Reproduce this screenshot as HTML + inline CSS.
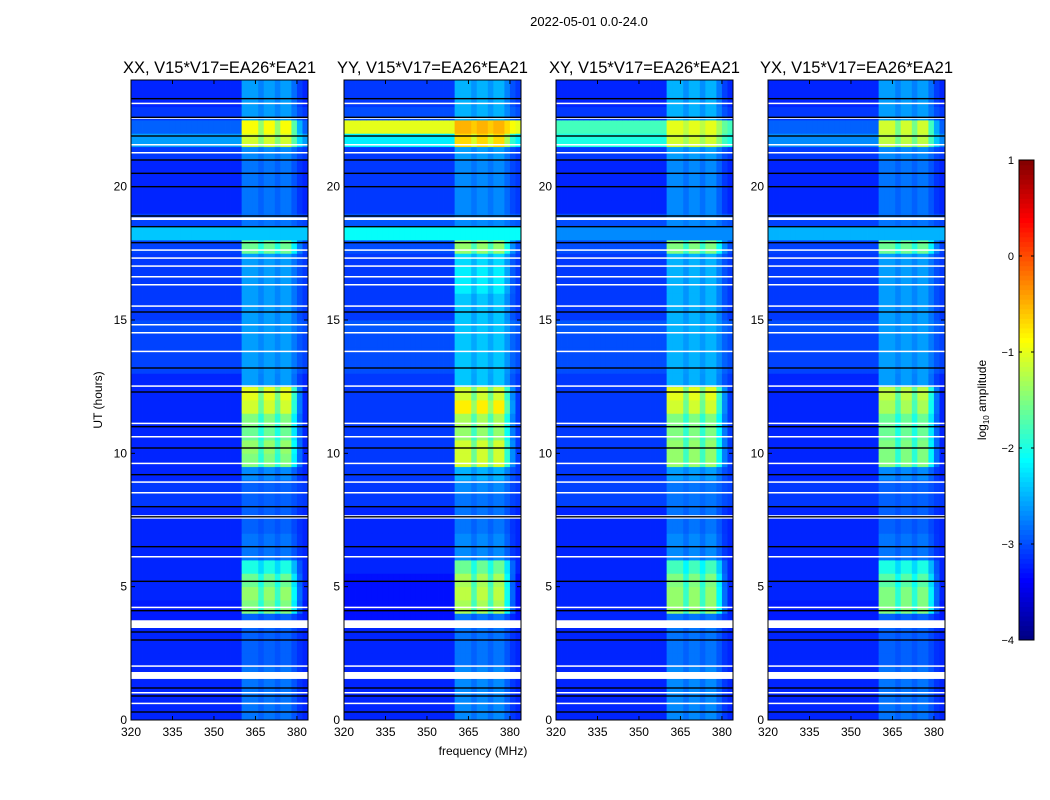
<!DOCTYPE html>
<html><head><meta charset="utf-8">
<style>
html,body{margin:0;padding:0;background:#fff;}
svg{display:block;font-family:"Liberation Sans",sans-serif;}
</style></head>
<body>
<svg id="chart" width="1050" height="800" viewBox="0 0 1050 800" xmlns="http://www.w3.org/2000/svg">
<text x="589" y="26" font-size="13" text-anchor="middle">2022-05-01 0.0-24.0</text>
<text x="483" y="755" font-size="12" text-anchor="middle">frequency (MHz)</text>
<text x="102" y="400" font-size="12" text-anchor="middle" transform="rotate(-90 102 400)">UT (hours)</text>
<g id="panels"></g>
<g id="cbar"></g>
<text x="986" y="400" font-size="12" text-anchor="middle" transform="rotate(-90 986 400)">log<tspan font-size="8" dy="3">10</tspan><tspan dy="-3"> amplitude</tspan></text>
</svg>
<script>
// ---- data ----
const polarizations = ["XX","YY","XY","YX"];
const baselineLabel = "V15*V17=EA26*EA21";
const freqEdges = [320,322,324,326,328,330,332,334,336,338,340,342,344,346,348,350,352,354,356,358,360,362,364,366,368,370,372,374,376,378,380,382,384];
const bandProfile = [0,0,0,0,0,0,0,0,0,0,0,0,0,0,0,0,0,0,0,0,1,1,1,0.75,1,1,0.75,1,1,0.6,0.2,0];
const xTicks = [320,335,350,365,380];
const yTicks = [0,5,10,15,20];
const cbarTicks = [1,0,-1,-2,-3,-4];
// half-hour rows, index 0 = 0.0-0.5 h
const rfiXX = [-2.8,-2.8,-2.8,-2.8,-2.9,-2.9,-2.9,-2.9,-1.5,-1.4,-1.6,-2.0,-2.8,-2.8,-2.9,-2.9,-2.9,-2.9,-2.7,-1.5,-1.4,-1.6,-1.5,-1.1,-1.0,-2.6,-2.6,-2.6,-2.6,-2.6,-2.6,-2.6,-2.6,-2.6,-2.6,-1.6,-2.8,-2.8,-2.8,-2.8,-2.8,-2.8,-2.7,-1.1,-0.9,-2.6,-2.6,-2.6];
const rfiYY = [-2.7,-2.7,-2.7,-2.7,-2.8,-2.8,-2.8,-2.8,-1.3,-1.2,-1.3,-1.6,-2.7,-2.7,-2.8,-2.8,-2.8,-2.7,-2.5,-1.1,-1.1,-1.4,-1.3,-0.8,-1.1,-2.4,-2.4,-2.4,-2.4,-2.4,-2.4,-2.4,-2.2,-2.2,-2.3,-1.4,-2.7,-2.7,-2.7,-2.7,-2.7,-2.7,-2.6,-0.7,-0.5,-2.5,-2.5,-2.5];
const rfiXY = [-2.7,-2.7,-2.7,-2.7,-2.8,-2.8,-2.8,-2.8,-1.4,-1.4,-1.5,-1.8,-2.7,-2.7,-2.8,-2.8,-2.8,-2.8,-2.6,-1.4,-1.4,-1.5,-1.5,-1.1,-1.0,-2.5,-2.5,-2.5,-2.5,-2.5,-2.5,-2.5,-2.5,-2.5,-2.5,-1.5,-2.7,-2.7,-2.7,-2.7,-2.7,-2.7,-2.6,-1.1,-1.0,-2.5,-2.5,-2.5];
const rfiYX = [-2.8,-2.8,-2.8,-2.8,-2.9,-2.9,-2.9,-2.9,-1.5,-1.5,-1.7,-2.0,-2.8,-2.8,-2.9,-2.9,-2.9,-2.9,-2.7,-1.5,-1.5,-1.6,-1.6,-1.3,-1.2,-2.6,-2.6,-2.6,-2.6,-2.6,-2.6,-2.6,-2.6,-2.6,-2.6,-1.6,-2.8,-2.8,-2.8,-2.8,-2.8,-2.8,-2.7,-1.2,-1.1,-2.6,-2.6,-2.6];
const baseXX = [-3.2,-3.2,-3.2,-3.2,-3.2,-3.2,-3.2,-3.25,-3.25,-3.2,-3.2,-3.2,-3.2,-3.2,-3.2,-3.2,-3.1,-3.1,-3.2,-3.2,-3.2,-3.2,-3.2,-3.2,-3.2,-3.2,-3.05,-3.05,-3.05,-3.0,-3.1,-3.1,-3.1,-3.1,-3.1,-3.05,-2.4,-3.05,-3.2,-3.2,-3.2,-3.2,-3.1,-2.6,-2.9,-3.1,-3.2,-3.2];
const baseYY = [-3.2,-3.2,-3.2,-3.2,-3.2,-3.2,-3.2,-3.3,-3.3,-3.3,-3.3,-3.2,-3.2,-3.2,-3.2,-3.2,-3.1,-3.1,-3.1,-3.1,-3.1,-3.1,-3.1,-3.1,-3.1,-3.1,-3.0,-3.0,-3.0,-2.95,-3.1,-3.1,-3.1,-3.1,-3.1,-3.0,-2.1,-2.95,-3.1,-3.1,-3.1,-3.1,-3.1,-2.2,-1.0,-3.0,-3.1,-3.1];
const baseXY = [-3.2,-3.2,-3.2,-3.2,-3.2,-3.2,-3.2,-3.2,-3.2,-3.2,-3.2,-3.2,-3.2,-3.2,-3.2,-3.2,-3.05,-3.05,-3.1,-3.1,-3.1,-3.1,-3.1,-3.1,-3.1,-3.1,-3.0,-3.0,-3.0,-2.95,-3.1,-3.1,-3.1,-3.1,-3.1,-3.0,-2.7,-3.0,-3.2,-3.2,-3.2,-3.2,-3.1,-2.0,-1.8,-3.1,-3.2,-3.2];
const baseYX = [-3.2,-3.2,-3.2,-3.2,-3.2,-3.2,-3.2,-3.25,-3.25,-3.2,-3.2,-3.2,-3.2,-3.2,-3.2,-3.2,-3.1,-3.1,-3.2,-3.2,-3.2,-3.2,-3.2,-3.2,-3.2,-3.2,-3.05,-3.05,-3.05,-3.0,-3.1,-3.1,-3.1,-3.1,-3.1,-3.05,-2.5,-3.05,-3.2,-3.2,-3.2,-3.2,-3.1,-2.7,-2.9,-3.1,-3.2,-3.2];
const rfiSeries = [rfiXX, rfiYY, rfiXY, rfiYX];
const baseSeries = [baseXX, baseYY, baseXY, baseYX];
const whiteGaps = [[3.45,3.74],[1.54,1.8],[7.55,7.68],[0.6,0.65],[1.0,1.05],[2.0,2.05],[4.2,4.25],[6.1,6.15],[8.5,8.55],[8.9,8.95],[9.6,9.65],[10.6,10.65],[11.1,11.15],[12.5,12.55],[13.8,13.85],[14.5,14.55],[14.8,14.85],[15.5,15.55],[16.3,16.35],[16.6,16.65],[17.0,17.05],[17.3,17.35],[17.6,17.65],[18.75,18.85],[21.25,21.3],[21.55,21.6],[22.55,22.6],[23.1,23.15]];
const blackLines = [0.3,0.9,1.2,3.0,3.3,4.1,5.2,6.5,7.62,8.0,9.2,10.2,11.0,12.3,13.2,15.3,17.9,18.5,18.9,20.0,20.5,21.0,21.9,22.6,23.3];

// ---- axes ----
const panelX = [131,344,556,768], panelW = 177, yTop = 80, yBottom = 720;
const fMin = 320, fMax = 384, hMax = 24;
const xs = (p,f) => panelX[p] + (f - fMin) / (fMax - fMin) * panelW;
const ys = h => yBottom - h / hMax * (yBottom - yTop);
const clamp = v => Math.max(0, Math.min(1, v));
function jet(v){ const t = clamp((v + 4) / 5);
  const r = clamp(1.5 - Math.abs(4*t-3)), g = clamp(1.5 - Math.abs(4*t-2)), b = clamp(1.5 - Math.abs(4*t-1));
  return `rgb(${Math.round(r*255)},${Math.round(g*255)},${Math.round(b*255)})`; }
const NS = "http://www.w3.org/2000/svg";
function mk(tag, attrs, parent){ const e = document.createElementNS(NS, tag); for (const k in attrs) e.setAttribute(k, attrs[k]); parent.appendChild(e); return e; }

const panels = document.getElementById("panels");
polarizations.forEach((pol, p) => {
  const g = mk("g", {}, panels);
  
  
  const rfi = rfiSeries[p], base = baseSeries[p];
  for (let r = 0; r < rfi.length; r++) {
    const h0 = r * 0.5, h1 = h0 + 0.5;
    for (let c = 0; c < freqEdges.length - 1; c++) {
      const f = bandProfile[c];
      const v = base[r] + Math.max(0, rfi[r] - base[r]) * f;
      const cell = mk("rect", {x: xs(p, freqEdges[c]), y: ys(h1), width: xs(p, freqEdges[c+1]) - xs(p, freqEdges[c]) + 0.4, height: ys(h0) - ys(h1) + 0.4, fill: jet(v)}, g);
      
      
    }
  }
  whiteGaps.forEach(w => {
    const e = mk("rect", {x: panelX[p], y: ys(w[1]), width: panelW, height: Math.max(1.5, ys(w[0]) - ys(w[1])), fill: "#fff"}, g);
    
    
  });
  blackLines.forEach(h => {
    const e = mk("rect", {x: panelX[p], y: ys(h) - 0.7, width: panelW, height: 1.4, fill: "#000"}, g);
    
    
  });
  const fr = mk("rect", {x: panelX[p], y: yTop, width: panelW, height: yBottom - yTop, fill: "none", stroke: "#000", "stroke-width": 1}, g);
  
  
  const t = mk("text", {x: panelX[p] + panelW/2, y: 73, "font-size": 16.5, "text-anchor": "middle"}, g);
  t.textContent = pol + ", " + baselineLabel;
  
  
  xTicks.forEach(f => {
    mk("line", {x1: xs(p,f), x2: xs(p,f), y1: yBottom, y2: yBottom - 4, stroke: "#000"}, g);
    mk("line", {x1: xs(p,f), x2: xs(p,f), y1: yTop, y2: yTop + 4, stroke: "#000"}, g);
    const l = mk("text", {x: xs(p,f), y: yBottom + 16, "font-size": 12, "text-anchor": "middle"}, g);
    l.textContent = f;
    
    
  });
  yTicks.forEach(h => {
    mk("line", {x1: panelX[p], x2: panelX[p] + 4, y1: ys(h), y2: ys(h), stroke: "#000"}, g);
    mk("line", {x1: panelX[p] + panelW, x2: panelX[p] + panelW - 4, y1: ys(h), y2: ys(h), stroke: "#000"}, g);
    const l = mk("text", {x: panelX[p] - 4, y: ys(h) + 4, "font-size": 12, "text-anchor": "end"}, g);
    l.textContent = h;
    
    
  });
});

// colorbar
const cb = document.getElementById("cbar");


const cbX = 1019, cbW = 15, cbTop = 160, cbBot = 640, vMin = -4, vMax = 1;
const cy = v => cbBot - (v - vMin) / (vMax - vMin) * (cbBot - cbTop);
for (let i = 0; i < 100; i++) {
  const v0 = vMin + i * (vMax - vMin) / 100, v1 = v0 + (vMax - vMin) / 100;
  mk("rect", {x: cbX, y: cy(v1), width: cbW, height: cy(v0) - cy(v1) + 0.5, fill: jet((v0 + v1) / 2)}, cb);
}
mk("rect", {x: cbX, y: cbTop, width: cbW, height: cbBot - cbTop, fill: "none", stroke: "#000"}, cb);
cbarTicks.forEach(v => {
  mk("line", {x1: cbX, x2: cbX + 3, y1: cy(v), y2: cy(v), stroke: "#000"}, cb);
  mk("line", {x1: cbX + cbW, x2: cbX + cbW - 3, y1: cy(v), y2: cy(v), stroke: "#000"}, cb);
  const l = mk("text", {x: cbX - 5, y: cy(v) + 4, "font-size": 11, "text-anchor": "end"}, cb);
  l.textContent = v < 0 ? "\u2212" + Math.abs(v) : String(v);
  
  
});
</script>
</body></html>
